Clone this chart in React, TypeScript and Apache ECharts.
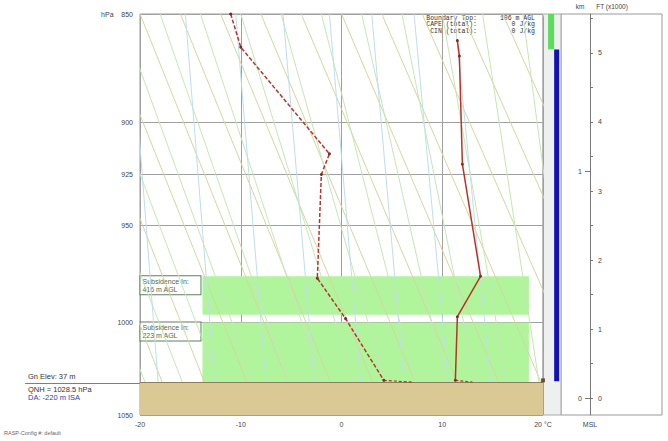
import React, { useEffect, useRef } from "react";
import * as echarts from "echarts";

// ---- axis ticks ----
const pressureTicks = [850, 900, 925, 950, 1000, 1050];
const kftTicks = [0, 0.5, 1, 1.5, 2, 2.5, 3, 3.5, 4, 4.5, 5, 5.5];
const kftLabels = [0, 1, 2, 3, 4, 5];
const kmTicks = [0, 1];

// ---- sounding profile ----
const tempT = [11.5, 11.7, 12.0, 13.8, 11.5, 11.3];
const tempP = [862, 869, 920, 976, 997, 1031];
const dewT = [-11.0, -10.0, -1.2, -2.0, -2.4, 0.4, 4.2];
const dewP = [850, 865, 915, 925, 977, 998, 1031];
const surfTempT = [11.3, 13.0];
const surfDewT = [4.2, 7.1];
const surfP = [1031, 1032];
const groundP = 1032;
const sfcMarkerT = 20;

// ---- subsidence layers ----
const subsLayerTop = [976, 1000];
const subsLayerBottom = [996, 1032];
const subsLabels = ["Subsidence In:\n416 m AGL", "Subsidence In:\n223 m AGL"];
const subsLeftT = -13.8;
const subsRightT = 18.6;

// ---- side strip bars ----
const greenBarP = [850, 866];
const blueBarP = [866, 1031.5];

// ---- background reference lines: temperature at 850 hPa and at ground ----
const dryTopT = [-44, -40, -36, -32, -28, -24, -20, -16, -12, -8, -4, 0, 4, 8, 12, 16, 20];
const dryBotT = [-30.5, -26.2, -22, -17.8, -13.6, -9.4, -5.3, -1.1, 3.1, 7.3, 11.5, 15.6, 19.8, 24, 28.2, 32.4, 36.6];
const moistTopT = [-42, -38, -34, -30, -26, -22, -18, -14, -10, -6, -2, 2, 6, 10, 14, 18];
const moistBotT = [-27, -23.2, -19.5, -15.8, -12.2, -8.7, -5.3, -2, 1.2, 4.3, 7.3, 10.3, 13.3, 16.4, 19.6, 22.8];
const mixTopT = [-21, -15.5, -10.5, -5.8, -1.2, 3, 7.2, 11.2];
const mixBotT = [-18.2, -12.6, -7.5, -2.7, 1.9, 6.2, 10.6, 14.8];

function refLines(top: number[], bot: number[], color: string, type: string) {
  return top.map((t, i) => ({
    type: "line",
    xAxisIndex: 0,
    yAxisIndex: 0,
    silent: true,
    symbol: "none",
    z: 1,
    lineStyle: { color, width: 1, type },
    data: [
      [t, 850],
      [bot[i], groundP],
    ],
  }));
}

const font = "Liberation Sans, Arial, sans-serif";

export default function App() {
  const ref = useRef<HTMLDivElement>(null);
  useEffect(() => {
    const chart = echarts.init(ref.current!, null, { renderer: "svg" });
    const option: any = {
      animation: false,
      backgroundColor: "#ffffff",
      textStyle: { fontFamily: font },
      grid: [
        { left: 140, top: 14, width: 403, height: 401, show: true, borderColor: "#9a9a9a", borderWidth: 1, backgroundColor: "#ffffff" },
        { left: 561, top: 14, width: 101, height: 401, show: true, borderColor: "#9a9a9a", borderWidth: 1 },
        { left: 543, top: 14, width: 18, height: 401, show: true, borderColor: "#a8a8a8", borderWidth: 1, backgroundColor: "#eef0f0" },
      ],
      xAxis: [
        {
          gridIndex: 0, type: "value", min: -20, max: 20, interval: 10,
          axisLine: { show: false }, axisTick: { show: false },
          splitLine: { show: true, lineStyle: { color: "#a0a0a0", width: 1 } },
          axisLabel: { fontSize: 7, color: "#444", margin: 6, formatter: (v: number) => (v === 20 ? "20 °C" : String(v)) },
        },
        { gridIndex: 1, type: "value", min: 0, max: 1, show: false },
        { gridIndex: 2, type: "value", min: 0, max: 1, show: false },
      ],
      yAxis: [
        {
          gridIndex: 0, type: "log", min: 850, max: 1050, inverse: true,
          axisLine: { show: false },
          axisTick: { show: false, customValues: pressureTicks },
          splitLine: { show: true, lineStyle: { color: "#a0a0a0", width: 1 } },
          axisLabel: { customValues: pressureTicks, fontSize: 7, color: "#444", margin: 7, formatter: (v: number) => (Math.round(v) === 850 ? "hPa    850" : String(Math.round(v))) },
        },
        {
          gridIndex: 1, type: "value", min: -0.246, max: 5.565, position: "left", offset: -29,
          axisLine: { show: true, lineStyle: { color: "#777" } },
          axisTick: { show: true, inside: true, length: 3, customValues: kftTicks, lineStyle: { color: "#777" } },
          axisLabel: { inside: true, customValues: kftLabels, fontSize: 7, color: "#444", margin: 8 },
          splitLine: { show: false },
        },
        {
          gridIndex: 1, type: "value", min: -0.075, max: 1.696, position: "left", offset: -29,
          axisLine: { show: false },
          axisTick: { show: true, length: 5, customValues: kmTicks, lineStyle: { color: "#777" } },
          axisLabel: { customValues: kmTicks, fontSize: 7, color: "#444", margin: 8 },
          splitLine: { show: false },
        },
        { gridIndex: 2, type: "log", min: 850, max: 1050, inverse: true, show: false },
      ],
      series: [
        // fills: subsidence layers and ground
        {
          type: "line", xAxisIndex: 0, yAxisIndex: 0, data: [], silent: true, z: 0,
          markArea: {
            silent: true,
            data: [
              ...subsLayerTop.map((top, i) => [
                {
                  xAxis: subsLeftT, yAxis: top,
                  itemStyle: { color: "#b0f59c" },
                  label: {
                    show: true, position: [-62, 0], formatter: subsLabels[i],
                    fontSize: 7, lineHeight: 8, color: "#4a6a4a", align: "left",
                    backgroundColor: "#ffffff", borderColor: "#5f7f5f", borderWidth: 1,
                    padding: [1, 2, 1, 2], width: 56,
                  },
                },
                { xAxis: subsRightT, yAxis: subsLayerBottom[i] },
              ]),
              [
                { xAxis: -20, yAxis: groundP, itemStyle: { color: "#dac994" } },
                { xAxis: 20, yAxis: 1050 },
              ],
            ],
          },
          markLine: {
            silent: true, symbol: "none", label: { show: false },
            lineStyle: { color: "#8c7d5e", width: 1, type: "solid" },
            data: [{ yAxis: groundP }],
          },
        },
        ...refLines(dryTopT, dryBotT, "#d2d6a2", "solid"),
        ...refLines(moistTopT, moistBotT, "#c6e6b6", "solid"),
        ...refLines(mixTopT, mixBotT, "#bedeea", "solid"),
        // profiles
        {
          type: "line", name: "Temperature", xAxisIndex: 0, yAxisIndex: 0, z: 5,
          data: tempT.map((t, i) => [t, tempP[i]]),
          symbol: "circle", symbolSize: 3, showSymbol: true,
          lineStyle: { color: "#b8332a", width: 1.5 }, itemStyle: { color: "#8a2a22" },
        },
        {
          type: "line", name: "Dewpoint", xAxisIndex: 0, yAxisIndex: 0, z: 5,
          data: dewT.map((t, i) => [t, dewP[i]]),
          symbol: "circle", symbolSize: 3, showSymbol: true,
          lineStyle: { color: "#b8332a", width: 1.5, type: [4, 2] }, itemStyle: { color: "#7a2a22" },
        },
        {
          type: "line", xAxisIndex: 0, yAxisIndex: 0, z: 5, symbol: "none",
          data: surfTempT.map((t, i) => [t, surfP[i]]),
          lineStyle: { color: "#b8332a", width: 1.2, type: [3, 2] },
        },
        {
          type: "line", xAxisIndex: 0, yAxisIndex: 0, z: 5, symbol: "none",
          data: surfDewT.map((t, i) => [t, surfP[i]]),
          lineStyle: { color: "#b8332a", width: 1.2, type: [3, 2] },
        },
        {
          type: "scatter", xAxisIndex: 0, yAxisIndex: 0, z: 6, clip: false,
          symbol: "rect", symbolSize: 4, itemStyle: { color: "#5a2f1f" },
          data: [[sfcMarkerT, surfP[0]]],
        },
        // side strip bars
        {
          type: "line", xAxisIndex: 2, yAxisIndex: 3, data: [], silent: true,
          markArea: {
            silent: true,
            data: [
              [{ xAxis: 0.28, yAxis: greenBarP[0], itemStyle: { color: "#5fdc5f" } }, { xAxis: 0.62, yAxis: greenBarP[1] }],
              [{ xAxis: 0.62, yAxis: blueBarP[0], itemStyle: { color: "#1212b4" } }, { xAxis: 0.9, yAxis: blueBarP[1] }],
            ],
          },
        },
      ],
      graphic: [
        { type: "line", shape: { x1: 25, y1: 383.5, x2: 140, y2: 383.5 }, style: { stroke: "#8c7d5e", lineWidth: 1 } },
        { type: "text", left: 28, top: 372, style: { text: "Gn Elev: 37 m", fontSize: 7.5, fill: "#333", fontFamily: font } },
        { type: "text", left: 28, top: 385, style: { text: "QNH = 1028.5 hPa", fontSize: 7.5, fill: "#333", fontFamily: font } },
        { type: "text", left: 28, top: 393, style: { text: "DA: -220 m ISA", fontSize: 7.5, fill: "#2a46b0", fontFamily: font } },
        { type: "text", left: 4, top: 430, style: { text: "RASP-Config #: default", fontSize: 5.5, fill: "#666", fontFamily: font } },
        { type: "text", x: 477, y: 15, style: { text: "Boundary Top:\nCAPE (total):\nCIN (total):", fontSize: 6.5, lineHeight: 6.5, fill: "#333", align: "right", fontFamily: "Liberation Mono, monospace" } },
        { type: "text", x: 535, y: 15, style: { text: "106 m AGL\n0 J/kg\n0 J/kg", fontSize: 6.5, lineHeight: 6.5, fill: "#333", align: "right", fontFamily: "Liberation Mono, monospace" } },
        { type: "text", x: 580, y: 3, style: { text: "km", fontSize: 6.5, fill: "#444", align: "center", fontFamily: font } },
        { type: "text", x: 612, y: 3, style: { text: "FT (x1000)", fontSize: 6.5, fill: "#444", align: "center", fontFamily: font } },
        { type: "text", x: 590, y: 421, style: { text: "MSL", fontSize: 7, fill: "#444", align: "center", fontFamily: font } },
      ],
    };
    chart.setOption(option);
    return () => chart.dispose();
  }, []);
  return <div ref={ref} style={{ position: "absolute", left: 0, top: 0, width: 668, height: 441 }} />;
}
